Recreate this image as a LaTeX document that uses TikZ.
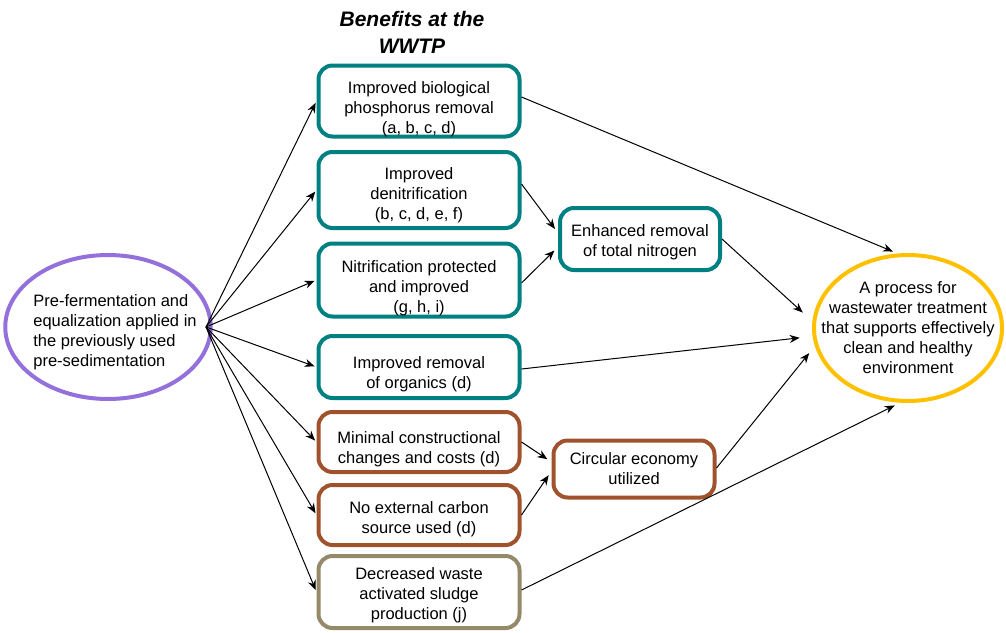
\documentclass[tikz,border=0pt]{standalone}
\usepackage{fontspec}
\setmainfont{Liberation Sans}
\usetikzlibrary{shapes.geometric,arrows.meta}
\definecolor{benteal}{RGB}{0,128,128}
\definecolor{bensienna}{RGB}{160,82,45}
\definecolor{bengrey}{RGB}{148,138,106}
\definecolor{srcpurple}{RGB}{147,112,219}
\definecolor{goalgold}{RGB}{255,192,0}
% text set a little lower than the box centre
\newcommand{\lowered}[3][c]{\raisebox{-#2}[\height][\depth]{\begin{tabular}{@{}#1@{}}#3\end{tabular}}}
\begin{document}
\begin{tikzpicture}[x=1pt, y=-1pt,
        every node/.style={font=\fontsize{16.5}{20}\selectfont, align=center, inner sep=0pt},
        benefit/.style={rectangle, rounded corners=14pt, draw, line width=4pt, minimum width=201pt},
        water/.style={benefit, draw=benteal},
        cost/.style={benefit, draw=bensienna},
        sludge/.style={benefit, draw=bengrey},
        oval/.style={ellipse, draw, line width=4pt, inner ysep=0pt},
        arrow/.style={-{Stealth[length=10pt,width=8pt]}, line width=1pt}
    ]
        \useasboundingbox (0,0) rectangle (1006,632);

        % Title
        \node[font=\fontsize{21}{27}\selectfont\bfseries\itshape] (T) at (412,32) {Benefits at the\\WWTP};

        % Source
        \node[oval, draw=srcpurple, inner xsep=-16pt, minimum width=196pt, minimum height=144pt] (P) at (108,327)
            {\lowered[@{\hspace{14pt}}l]{5pt}{Pre-fermentation and\\equalization applied in\\the previously used\\pre-sedimentation}};
        \coordinate (src) at (206,327);

        % Benefits at the WWTP
        \node[water, minimum height=71pt] (B1) at (419,101) {\lowered{8pt}{Improved biological\\phosphorus removal\\(a, b, c, d)}};
        \node[water, minimum height=76pt] (B2) at (419,190) {\lowered{5pt}{Improved\\denitrification\\(b, c, d, e, f)}};
        \node[water, minimum height=73pt] (B3) at (419,280) {\lowered{8pt}{Nitrification protected\\and improved\\(g, h, i)}};
        \node[water, minimum height=62pt] (B4) at (419,367) {\lowered{7pt}{Improved removal\\of organics (d)}};
        \node[cost, minimum height=60pt] (B5) at (419,442) {\lowered{7pt}{Minimal constructional\\changes and costs (d)}};
        \node[cost, minimum height=60pt] (B6) at (419,515) {\lowered{4pt}{No external carbon\\source used (d)}};
        \node[sludge, minimum height=72pt] (B7) at (419,592) {\lowered{3pt}{Decreased waste\\activated sludge\\production (j)}};

        % Combined benefits
        \node[water, minimum width=160pt, minimum height=62pt] (TN) at (640,239) {\lowered{3pt}{Enhanced removal\\of total nitrogen}};
        \node[cost, minimum width=161pt, minimum height=57pt] (CE) at (634,469) {Circular economy\\utilized};

        % Goal
        \node[oval, draw=goalgold, inner xsep=-24pt, minimum width=188pt, minimum height=146pt] (G) at (908,328)
            {A process for\\wastewater treatment\\that supports effectively\\clean and healthy\\environment};

        % Source -> benefits
        \foreach \i in {1,...,7}
            \draw[arrow, shorten >=2pt] (src) -- (B\i.west);

        % Benefits -> combined benefits
        \draw[arrow, shorten >=5pt] ([yshift=6pt]B2.east) -- ([yshift=6pt]TN.west);
        \draw[arrow, shorten >=5pt] ([yshift=-3pt]B3.east) -- ([yshift=-8pt]TN.west);
        \draw[arrow, shorten >=5pt] (B5.east) -- ([yshift=7pt]CE.west);
        \draw[arrow, shorten >=5pt] (B6.east) -- ([yshift=-2pt]CE.west);

        % -> goal
        \draw[arrow, shorten >=5pt] ([yshift=4pt]B1.east) -- (G.98);
        \draw[arrow, shorten >=13pt] (TN.east) -- (G.176);
        \draw[arrow, shorten >=13pt] ([yshift=-2pt]B4.east) -- (G.185);
        \draw[arrow, shorten >=9pt] ([yshift=1pt]CE.east) -- (G.191);
        \draw[arrow, shorten >=6pt] ([yshift=2pt]B7.east) -- (G.264);

    \end{tikzpicture}
\end{document}
